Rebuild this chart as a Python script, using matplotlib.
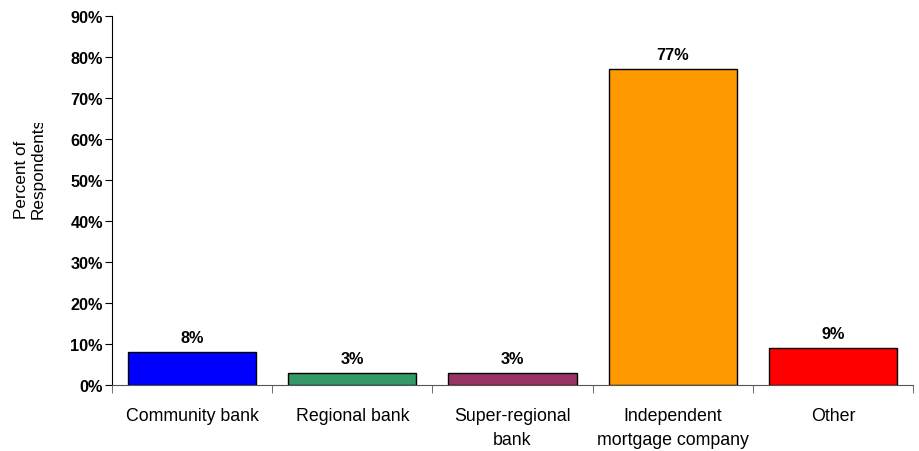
import numpy as np
import matplotlib.pyplot as plt
from matplotlib.patches import Rectangle

plt.rcParams["font.family"] = ["Liberation Sans", "DejaVu Sans"]

categories = ["Community bank", "Regional bank", "Super-regional\nbank",
              "Independent\nmortgage company", "Other"]
values = [8, 3, 3, 77, 9]
colors = ["#0000FF", "#339966", "#993366", "#FF9900", "#FF0000"]
yticks = [0, 10, 20, 30, 40, 50, 60, 70, 80, 90]

fig = plt.figure(figsize=(9.19, 4.52), dpi=100)
ax = fig.add_axes([112 / 919, 66 / 452, 801 / 919, 369 / 452])

x = np.arange(len(categories))
bars = ax.bar(x, values, width=0.8, color=colors, edgecolor="black", linewidth=1)

for xi, v in zip(x, values):
    ax.annotate(f"{v}%", (xi, v), xytext=(0, 5), textcoords="offset points",
                ha="center", va="bottom", fontsize=11.7, fontweight="bold")

ax.set_xlim(-0.5, len(categories) - 0.5)
ax.set_ylim(0, 90)
ax.set_yticks(yticks)
ax.set_yticklabels([f"{t}%" for t in yticks], fontsize=11.7, fontweight="bold")

ax.set_xticks(x)
ax.set_xticklabels(categories, fontsize=12.8, linespacing=1.5)
ax.set_xticks(np.arange(-0.5, len(categories)), minor=True)
ax.tick_params(axis="x", which="major", length=0, pad=16)
ax.tick_params(axis="x", which="minor", length=6, direction="out", color="#555555")
ax.tick_params(axis="y", length=5, direction="out", pad=1.5)

for s in ["top", "right"]:
    ax.spines[s].set_visible(False)
ax.spines["bottom"].set_color("#555555")
ax.spines["left"].set_color("black")

# y label is clipped at its top end, as in the original
t = fig.text(30 / 919, 1 - 219 / 452, "Percent of\nRespondents", rotation=90,
             ha="center", va="bottom", multialignment="left",
             fontsize=12.3, linespacing=1.1)
t.set_clip_path(Rectangle((0, 1 - 230 / 452), 1, 106 / 452, transform=fig.transFigure))

fig.savefig("out.png", dpi=100)
